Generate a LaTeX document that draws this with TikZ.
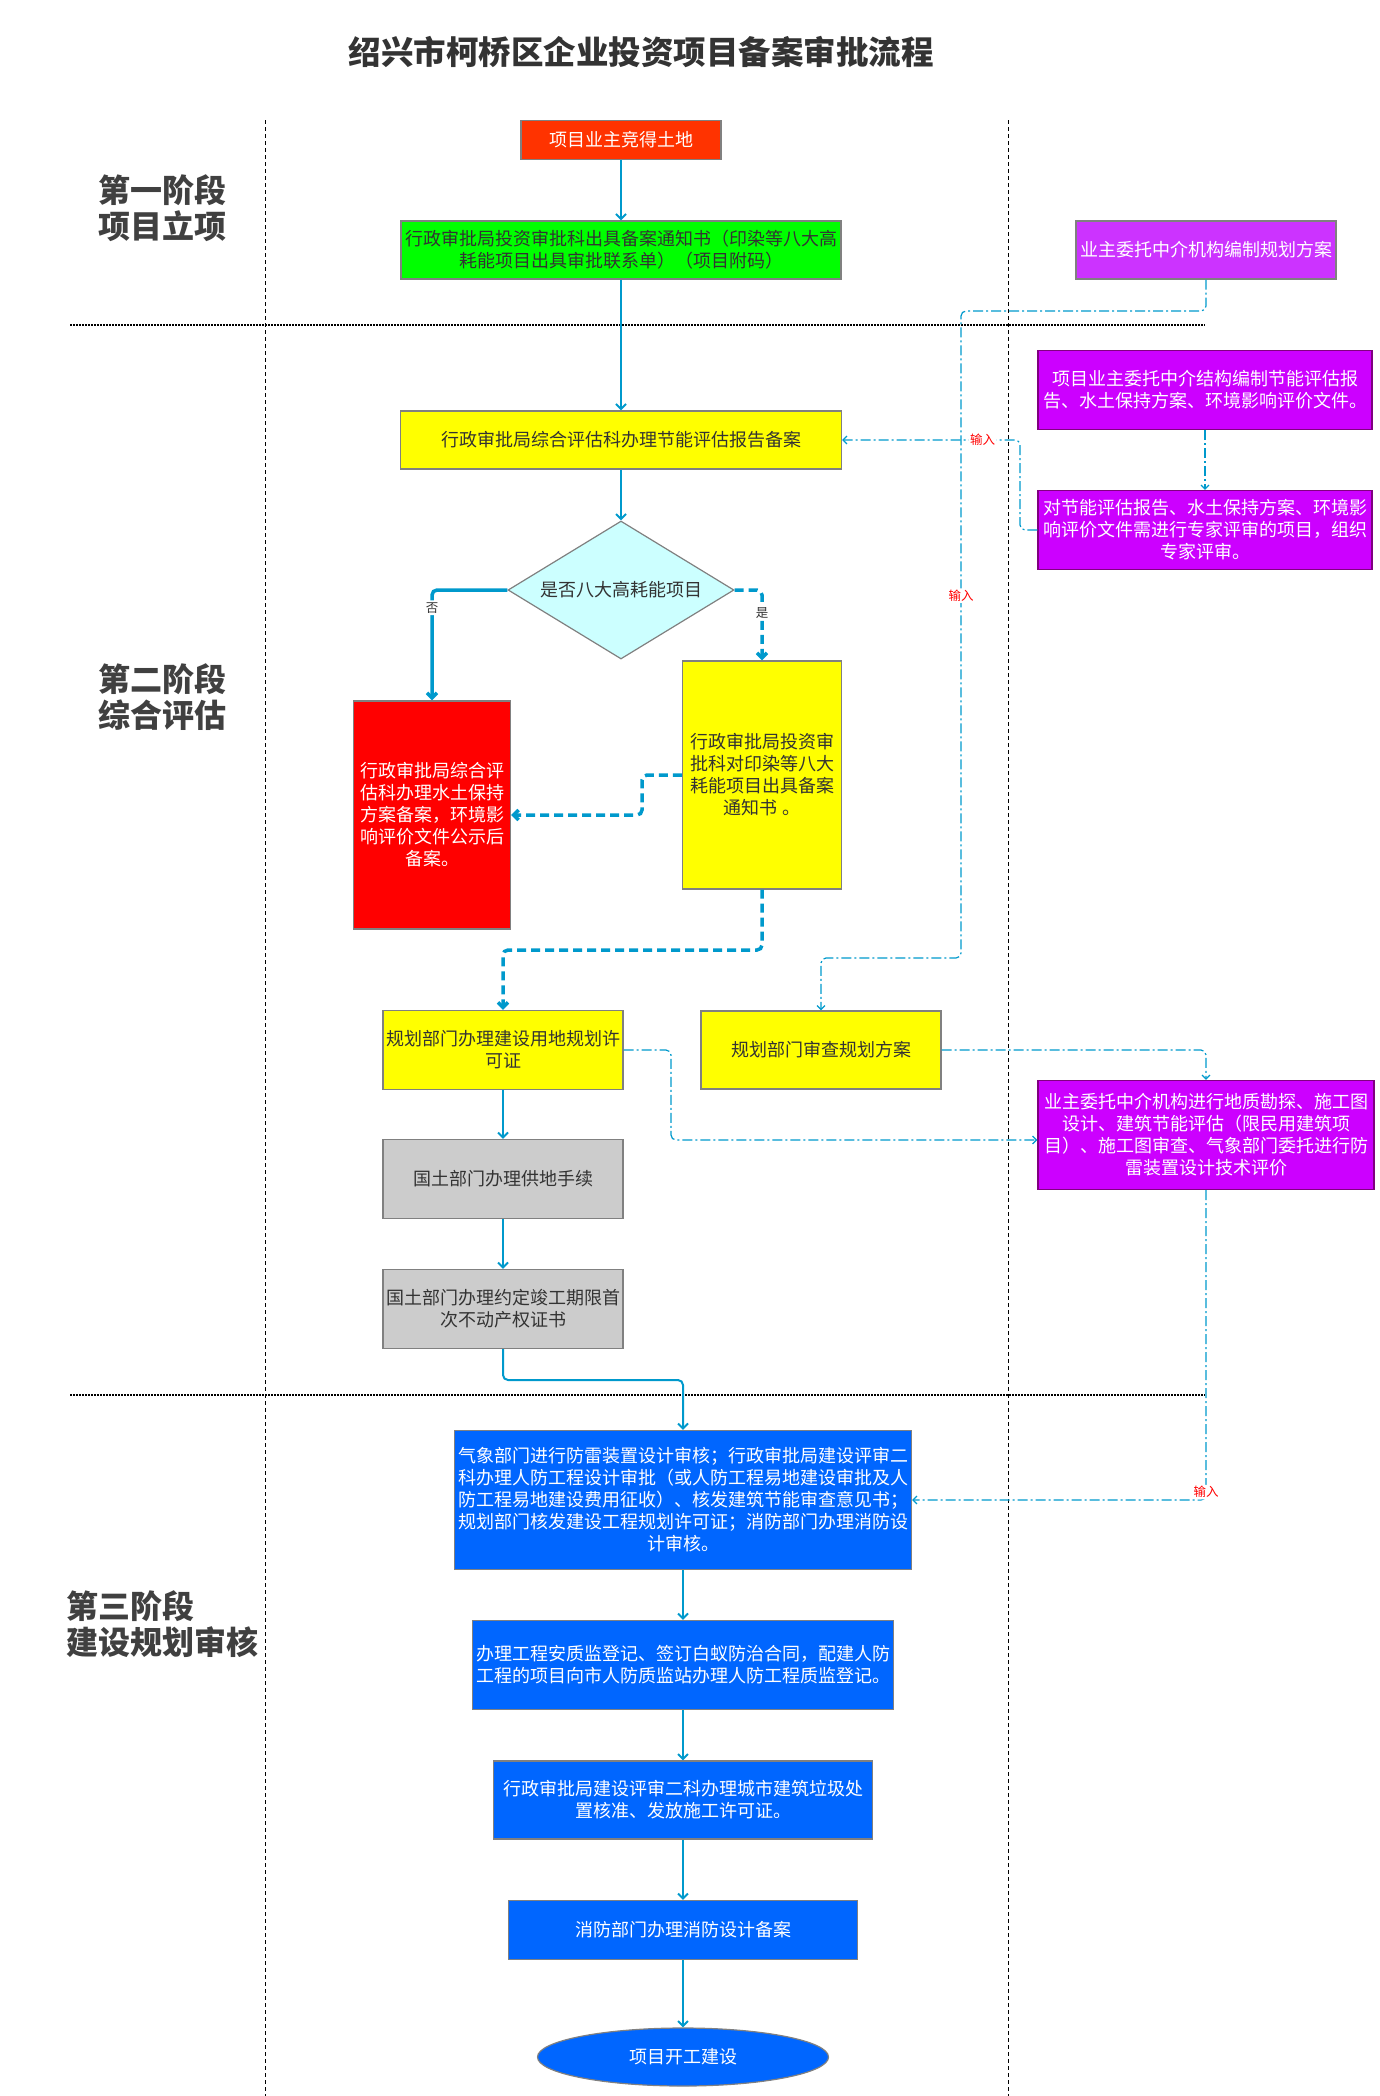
\documentclass[tikz,border=0pt]{standalone}
\usepackage{fontspec}
\setmainfont{Noto Sans CJK SC}
\usetikzlibrary{arrows.meta,shapes.geometric,calc}
\definecolor{lineblue}{RGB}{0,153,204}
\definecolor{boxgray}{RGB}{128,128,128}
\definecolor{txtdark}{RGB}{51,51,51}
\definecolor{corange}{RGB}{255,51,0}
\definecolor{cgreen}{RGB}{0,255,0}
\definecolor{cmagA}{RGB}{204,51,255}
\definecolor{cmagB}{RGB}{204,0,255}
\definecolor{cpurple}{RGB}{128,0,128}
\definecolor{cyellow}{RGB}{255,255,0}
\definecolor{cred}{RGB}{255,0,0}
\definecolor{cgrey}{RGB}{204,204,204}
\definecolor{cblue}{RGB}{0,102,255}
\definecolor{ccyan}{RGB}{204,255,255}
\definecolor{stagegray}{RGB}{64,64,64}
\begin{document}
\begin{tikzpicture}[x=1pt,y=-1pt,
  base/.style={draw=boxgray, line width=1.2pt, inner sep=2pt, align=center,
    font=\fontsize{18}{22}\selectfont, text=txtdark},
  magbox/.style={base, fill=cmagB, draw=cpurple, text=white},
  flow/.style={draw=lineblue, line width=2pt, rounded corners=5pt,
    -{Straight Barb[length=5pt,width=10pt]}},
  thickflow/.style={flow, line width=3.5pt},
  dashflow/.style={flow, line width=3.5pt, dash pattern=on 9pt off 5pt},
  ddflow/.style={draw=lineblue, line width=1.2pt, rounded corners=5pt,
    dash pattern=on 10pt off 3pt on 2pt off 3pt,
    -{Straight Barb[length=4pt,width=8pt]}},
  lbl/.style={fill=white, inner sep=2pt, font=\fontsize{12.5}{14}\selectfont, text=txtdark},
  redlbl/.style={fill=white, inner sep=1.5pt, font=\fontsize{12.5}{14}\selectfont, text=red},
  stage/.style={anchor=west, align=left, text=stagegray,
    font=\fontsize{32}{36}\selectfont\bfseries},
  divider/.style={draw=black, line width=1pt, dash pattern=on 4pt off 3pt},
  hdivider/.style={draw=black, line width=1.2pt, dash pattern=on 2pt off 1pt}
]
\useasboundingbox (0,0) rectangle (1379,2096);

% title
\node[text=txtdark, font=\fontsize{32.5}{36}\selectfont\bfseries] (title) at (641,52) {绍兴市柯桥区企业投资项目备案审批流程};

% dividers
\draw[divider] (265,120) -- (265,2096);
\draw[divider] (1008,120) -- (1008,2096);
\draw[hdivider] (70,325) -- (1205,325);
\draw[hdivider] (70,1395) -- (1205,1395);

% stage labels
\node[stage] (s1) at (95,208) {第一阶段\\项目立项};
\node[stage] (s2) at (95,697) {第二阶段\\综合评估};
\node[stage] (s3) at (63,1624) {第三阶段\\建设规划审核};

% nodes
\node[base, fill=corange, text=white, minimum width=200, minimum height=39] (b1) at (621,140) {项目业主竞得土地};
\node[base, fill=cgreen, minimum width=440, minimum height=58] (b2) at (621,250) {行政审批局投资审批科出具备案通知书（印染等八大高\\耗能项目出具审批联系单）（项目附码）};
\node[base, fill=cmagA, text=white, minimum width=260, minimum height=58] (b3) at (1206,250) {业主委托中介机构编制规划方案};
\node[base, fill=cyellow, minimum width=441, minimum height=58] (b4) at (621,440) {行政审批局综合评估科办理节能评估报告备案};
\node[magbox, minimum width=334, minimum height=79] (b5) at (1205,390) {项目业主委托中介结构编制节能评估报\\告、水土保持方案、环境影响评价文件。};
\node[magbox, minimum width=334, minimum height=79] (b6) at (1205,530) {对节能评估报告、水土保持方案、环境影\\响评价文件需进行专家评审的项目，组织\\专家评审。};
\node[base, diamond, aspect=1.64, fill=ccyan, inner sep=0pt, minimum width=226, minimum height=138] (dia) at (621,590) {是否八大高耗能项目};
\node[base, fill=cred, text=white, minimum width=157, minimum height=228] (red) at (432,815) {行政审批局综合评\\估科办理水土保持\\方案备案，环境影\\响评价文件公示后\\备案。};
\node[base, fill=cyellow, minimum width=159, minimum height=228] (b9) at (762,775) {行政审批局投资审\\批科对印染等八大\\耗能项目出具备案\\通知书 。};
\node[base, fill=cyellow, minimum width=240, minimum height=79] (b10) at (503,1050) {规划部门办理建设用地规划许\\可证};
\node[base, fill=cyellow, minimum width=240, minimum height=78] (b11) at (821,1050) {规划部门审查规划方案};
\node[magbox, minimum width=336, minimum height=109] (b12) at (1206,1135) {业主委托中介机构进行地质勘探、施工图\\设计、建筑节能评估（限民用建筑项\\目）、施工图审查、气象部门委托进行防\\雷装置设计技术评价};
\node[base, fill=cgrey, minimum width=240, minimum height=79] (b13) at (503,1179) {国土部门办理供地手续};
\node[base, fill=cgrey, minimum width=240, minimum height=79] (b14) at (503,1309) {国土部门办理约定竣工期限首\\次不动产权证书};
\node[base, fill=cblue, text=white, minimum width=457, minimum height=139] (b15) at (683,1500) {气象部门进行防雷装置设计审核；行政审批局建设评审二\\科办理人防工程设计审批（或人防工程易地建设审批及人\\防工程易地建设费用征收）、核发建筑节能审查意见书；\\规划部门核发建设工程规划许可证；消防部门办理消防设\\计审核。};
\node[base, fill=cblue, text=white, minimum width=421, minimum height=89] (b16) at (683,1665) {办理工程安质监登记、签订白蚁防治合同，配建人防\\工程的项目向市人防质监站办理人防工程质监登记。};
\node[base, fill=cblue, text=white, minimum width=379, minimum height=78] (b17) at (683,1800) {行政审批局建设评审二科办理城市建筑垃圾处\\置核准、发放施工许可证。};
\node[base, fill=cblue, text=white, minimum width=349, minimum height=59] (b18) at (683,1930) {消防部门办理消防设计备案};
\node[base, ellipse, fill=cblue, text=white, inner sep=0pt, minimum width=291, minimum height=58] (b19) at (683,2057) {项目开工建设};

% coordinates for bends
\coordinate (f1) at (642,775);
\coordinate (g1) at (762,950);
\coordinate (h1) at (503,1380);
\coordinate (i1) at (1206,311);
\coordinate (i2) at (961,311);
\coordinate (i3) at (961,958);
\coordinate (k1) at (1020,530);
\coordinate (k2) at (1020,440);
\coordinate (l1) at (671,1050);
\coordinate (l2) at (671,1140);

% main flow
\draw[flow] (b1.south) -- (b2.north);
\draw[flow] (b2.south) -- (b4.north);
\draw[flow] (b4.south) -- (dia.north);
\draw[thickflow] (dia.west) -| node[pos=0.58, lbl] {否} (red.north);
\draw[dashflow] (dia.east) -| node[pos=0.66, lbl] {是} (b9.north);
\draw[dashflow] (b9.west) -- (f1) |- (red.east);
\draw[dashflow] (b9.south) -- (g1) -| (b10.north);
\draw[flow] (b10.south) -- (b13.north);
\draw[flow] (b13.south) -- (b14.north);
\draw[flow] (b14.south) -- (h1) -| (b15.north);
\draw[flow] (b15.south) -- (b16.north);
\draw[flow] (b16.south) -- (b17.north);
\draw[flow] (b17.south) -- (b18.north);
\draw[flow] (b18.south) -- (b19.north);

% dash-dot inputs
\draw[ddflow] (b3.south) -- (i1) -- (i2) -- node[pos=0.44, redlbl] {输入} (i3) -| (b11.north);
\draw[ddflow] (b5.south) -- (b6.north);
\draw[ddflow] (b6.west) -- (k1) -- (k2) -- node[pos=0.21, redlbl] {输入} (b4.east);
\draw[ddflow] (b10.east) -- (l1) -- (l2) -- (l2 -| b12.west);
\draw[ddflow] (b11.east) -| (b12.north);
\draw[ddflow] (b12.south) |- node[pos=0.5, redlbl, yshift=8pt] {输入} (b15.east);
\end{tikzpicture}
\end{document}
